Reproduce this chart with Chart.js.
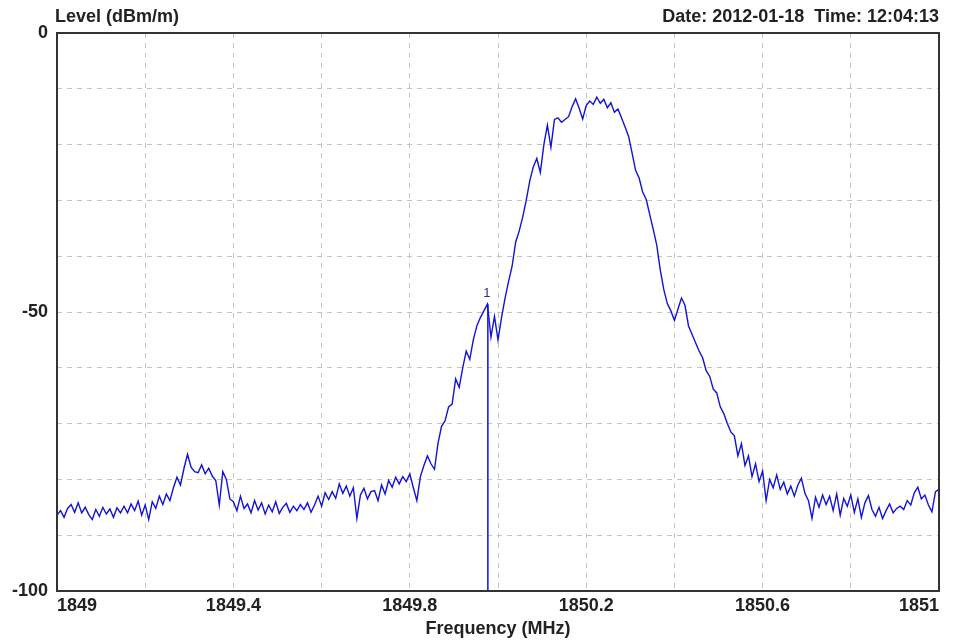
<!DOCTYPE html>
<html>
<head>
<meta charset="utf-8">
<script src="https://cdn.jsdelivr.net/npm/chart.js@4/dist/chart.umd.min.js"></script>
<style>
  html, body { margin: 0; padding: 0; background: #fff; }
  canvas { display: block; }
</style>
</head>
<body>
<canvas id="spectrum" width="956" height="642"></canvas>
<script>
// sweep settings (MHz)
const freqStart = 1849;
const freqStep = 0.008;

// measured level (dBm/m), one value per sweep point
const levels = [
  -86.4, -85.6, -86.8, -85.2, -84.5, -85.9, -84.2, -86.0, -85.0, -86.3,
  -87.2, -85.4, -86.6, -85.0, -86.2, -85.3, -86.8, -85.1, -86.0, -84.8,
  -86.0, -84.4, -85.6, -83.9, -86.4, -84.6, -87.2, -84.0, -85.2, -83.0,
  -84.5, -82.6, -83.8, -81.5, -79.6, -81.0, -78.0, -75.5, -77.8, -78.6,
  -78.8, -77.4, -79.0, -78.0, -79.4, -80.2, -84.6, -78.6, -80.0, -83.5,
  -84.0, -85.6, -83.0, -85.2, -84.4, -86.0, -83.8, -85.5, -84.2, -86.2,
  -84.6, -85.8, -84.0, -86.1, -85.0, -84.3, -85.9, -84.8, -85.6, -84.5,
  -85.4, -84.2, -85.9, -84.6, -83.0, -84.8, -82.4, -83.6, -82.2, -83.4,
  -80.8, -82.5, -81.2, -83.0, -81.5, -87.0, -82.8, -81.6, -83.5, -82.2,
  -82.0, -83.8, -81.0, -82.6, -80.2, -81.4, -79.6, -80.8, -79.5, -80.4,
  -79.0, -81.5, -83.8, -79.5, -77.5, -75.8, -77.2, -78.2, -73.5, -70.5,
  -69.5, -67.0, -66.5, -62.0, -63.5, -60.0, -57.0, -58.5, -55.0, -52.5,
  -51.0, -49.8, -48.6, -54.5, -50.8, -55.0, -51.0, -47.5, -44.5, -41.8,
  -37.5, -35.5, -33.0, -30.0, -26.5, -24.0, -22.5, -25.0, -20.0, -16.5,
  -20.5, -15.5, -15.2, -16.0, -15.5, -15.0, -13.2, -11.8, -13.5, -15.4,
  -13.0, -12.2, -12.8, -11.5, -12.6, -11.9, -13.4, -12.5, -14.2, -13.6,
  -15.2, -16.8, -18.5, -21.5, -24.6, -26.0, -28.5, -29.8, -32.5, -35.2,
  -38.0, -42.5, -46.0, -48.5, -49.8, -51.5, -49.5, -47.5, -48.8, -52.5,
  -54.0, -55.5, -57.0, -58.2, -60.5, -61.5, -63.8, -64.5, -67.0, -68.2,
  -70.0, -71.5, -72.2, -75.8, -73.6, -77.5, -75.8, -79.5, -77.2, -80.4,
  -78.5, -83.8, -80.0, -81.5, -79.2, -81.8, -80.5, -82.6, -81.2, -83.0,
  -81.0, -79.8, -82.5, -83.8, -87.0, -83.2, -85.0, -82.8, -84.5, -83.0,
  -85.6, -82.6, -86.4, -83.4, -84.8, -82.8, -85.9, -83.5, -86.8, -84.2,
  -82.9, -85.4, -86.6, -85.0, -87.0, -85.6, -84.4, -86.0, -85.2, -84.8,
  -85.4, -83.8, -84.6, -82.4, -81.4, -83.5, -82.8, -84.6, -85.8, -82.2,
  -81.8
];

// marker 1
const markerFreq = 1849.977;
const markerLevel = -48.6;
const markerName = '1';

// axis tick labels
const freqLabels = [1849, 1849.4, 1849.8, 1850.2, 1850.6, 1851];
const levelLabels = [0, -50, -100];

const headerLeft = 'Level (dBm/m)';
const headerRight = 'Date: 2012-01-18  Time: 12:04:13';

const trace = levels.map((v, i) => ({ x: freqStart + i * freqStep, y: v }));
const markerLine = [{ x: markerFreq, y: -100 }, { x: markerFreq, y: markerLevel }];

const FONT = "'Liberation Sans', Arial, sans-serif";
const TRACE_COLOR = '#1212d8';

const frameAndText = {
  id: 'frameAndText',
  afterDraw(chart) {
    const ctx = chart.ctx;
    const a = chart.chartArea;
    const xs = chart.scales.x, ys = chart.scales.y;
    ctx.save();
    ctx.strokeStyle = '#333';
    ctx.lineWidth = 2;
    ctx.strokeRect(a.left, a.top, a.right - a.left, a.bottom - a.top);

    ctx.fillStyle = '#222';
    ctx.font = 'bold 18px ' + FONT;
    ctx.textBaseline = 'middle';
    ctx.textAlign = 'left';
    ctx.fillText(headerLeft, 55, 17);
    ctx.textAlign = 'right';
    ctx.fillText(headerRight, a.right, 17);

    ctx.fillStyle = '#2a2aa0';
    ctx.font = '13px ' + FONT;
    ctx.textAlign = 'center';
    ctx.textBaseline = 'bottom';
    ctx.fillText(markerName, xs.getPixelForValue(markerFreq) - 1, ys.getPixelForValue(markerLevel) - 4);
    ctx.restore();
  }
};

new Chart(document.getElementById('spectrum'), {
  type: 'line',
  data: {
    datasets: [{
      label: 'Trace',
      data: trace,
      borderColor: TRACE_COLOR,
      borderWidth: 1.4,
      pointRadius: 0,
      tension: 0
    }, {
      label: 'Marker',
      data: markerLine,
      borderColor: TRACE_COLOR,
      borderWidth: 1.5,
      pointRadius: 0
    }]
  },
  options: {
    responsive: false,
    animation: false,
    events: [],
    layout: { padding: { top: 33, right: 17, left: 0, bottom: 0 } },
    plugins: {
      legend: { display: false },
      tooltip: { enabled: false }
    },
    scales: {
      x: {
        type: 'linear',
        min: 1849,
        max: 1851,
        afterFit: s => { s.height = 51; },
        afterBuildTicks: s => {
          s.ticks = [];
          for (let k = 0; k <= 10; k++) s.ticks.push({ value: 1849 + k * 0.2 });
        },
        grid: { color: '#c4c4c4', drawTicks: false, lineWidth: 1 },
        border: { display: false, dash: [5, 5] },
        ticks: {
          autoSkip: false,
          maxRotation: 0,
          align: 'inner',
          padding: 4,
          color: '#222',
          font: { family: FONT, size: 18, weight: 'bold' },
          callback: v => {
            const hit = freqLabels.find(f => Math.abs(f - v) < 1e-6);
            return hit === undefined ? '' : String(hit);
          }
        },
        title: {
          display: true,
          text: 'Frequency (MHz)',
          color: '#222',
          font: { family: FONT, size: 18, weight: 'bold' },
          padding: { top: 0, bottom: 2 }
        }
      },
      y: {
        min: -100,
        max: 0,
        afterFit: s => { s.width = 57; },
        grid: { color: '#c4c4c4', drawTicks: false, lineWidth: 1 },
        border: { display: false, dash: [5, 5] },
        ticks: {
          stepSize: 10,
          autoSkip: false,
          padding: 9,
          color: '#222',
          font: { family: FONT, size: 18, weight: 'bold' },
          callback: v => levelLabels.includes(v) ? String(v) : ''
        }
      }
    }
  },
  plugins: [frameAndText]
});
</script>
</body>
</html>
